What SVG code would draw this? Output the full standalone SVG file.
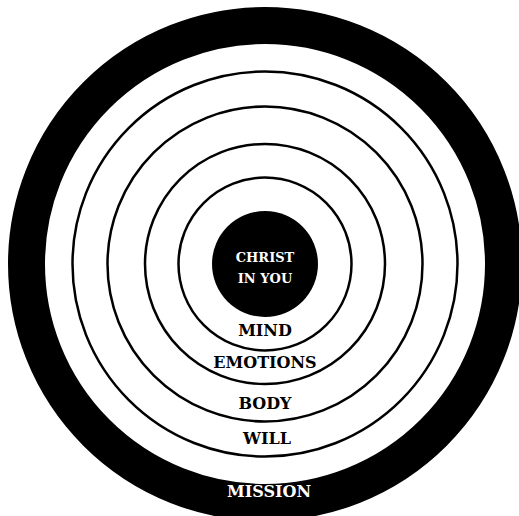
<svg xmlns="http://www.w3.org/2000/svg" width="519" height="516" viewBox="0 0 519 516">
<style>
.ring{fill:none;stroke:#000;stroke-width:2.5}
.lbl{font-family:"DejaVu Serif","Liberation Serif",serif;font-weight:bold;font-size:16px;text-anchor:middle;fill:#000}
.w{fill:#fff}
</style>
<rect width="519" height="516" fill="#fff"/>
<g id="mission">
<circle cx="265" cy="264" r="238.5" fill="none" stroke="#000" stroke-width="37"/>
<text class="lbl w" x="269" y="497">MISSION</text>
</g>
<g id="will">
<circle class="ring" cx="265" cy="264" r="192.5"/>
<text class="lbl" x="267" y="444">WILL</text>
</g>
<g id="body">
<circle class="ring" cx="265" cy="264" r="157.5"/>
<text class="lbl" x="265" y="409">BODY</text>
</g>
<g id="emotions">
<circle class="ring" cx="265" cy="264" r="120"/>
<text class="lbl" x="265" y="368">EMOTIONS</text>
</g>
<g id="mind">
<circle class="ring" cx="265" cy="264" r="86.5"/>
<text class="lbl" x="265" y="336">MIND</text>
</g>
<g id="christ">
<circle cx="265" cy="264" r="53" fill="#000"/>
<text class="lbl w" x="265" y="262" style="font-size:13px">CHRIST</text>
<text class="lbl w" x="265" y="283" style="font-size:13px">IN YOU</text>
</g>
</svg>
